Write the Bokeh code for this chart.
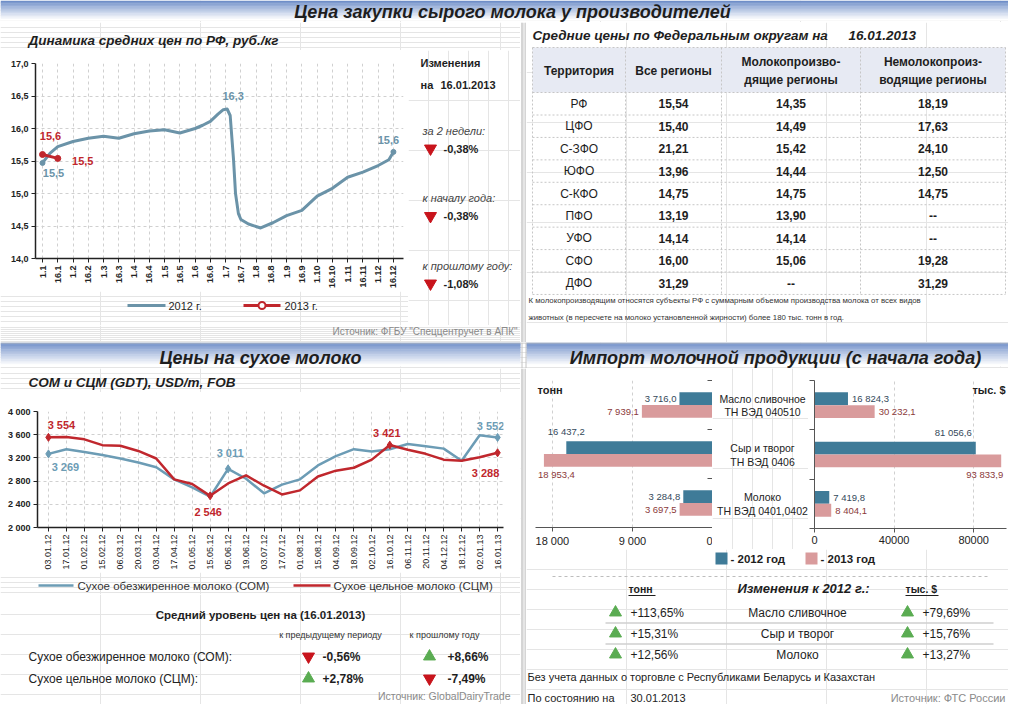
import math
from bokeh.plotting import figure
from bokeh.models import Range1d, FixedTicker
from bokeh.layouts import column, row
from bokeh.embed import file_html
from bokeh.resources import INLINE
from bokeh.core.properties import value

# ---------------------------------------------------------------- data
main_title = "Цена закупки сырого молока у производителей"

rf_title = "Динамика средних цен по РФ, руб./кг"
rf_ticks = ["1.1", "16.1", "1.2", "16.2", "1.3", "16.3", "1.4", "16.4", "1.5", "16.5",
            "1.6", "16.6", "1.7", "16.7", "1.8", "16.8", "1.9", "16.9", "1.10", "16.10",
            "1.11", "16.11", "1.12", "16.12"]
rf_yticks = [14.0, 14.5, 15.0, 15.5, 16.0, 16.5, 17.0]
rf2012_pos = [0, 0.5, 1, 2, 3, 4, 5, 6, 7, 8, 9, 10, 10.5, 11, 11.5, 11.85, 12.1, 12.3,
              12.52, 12.65, 12.84, 13.0, 13.5, 14.3, 15.1, 16, 17, 18, 19, 20, 21, 22, 22.7, 23]
rf2012_val = [15.47, 15.62, 15.72, 15.80, 15.85, 15.88, 15.85, 15.92, 15.96, 15.98, 15.93,
              16.00, 16.05, 16.11, 16.22, 16.29, 16.30, 16.20, 15.52, 15.00, 14.69, 14.60,
              14.53, 14.47, 14.55, 14.66, 14.74, 14.96, 15.08, 15.25, 15.33, 15.43, 15.52, 15.64]
rf2013_pos = [0, 1]
rf2013_val = [15.60, 15.54]
rf_series = ["2012 г.", "2013 г."]
rf_change_date = "16.01.2013"
rf_change_names = ["за 2 недели:", "к началу года:", "к прошлому году:"]
rf_change_vals = [-0.38, -0.38, -1.08]
rf_source = "Источник: ФГБУ \"Спеццентручет в АПК\""

fd_title = "Средние цены по Федеральным округам на"
fd_date = "16.01.2013"
fd_headers = [["Территория"], ["Все регионы"], ["Молокопроизво-", "дящие регионы"],
              ["Немолокопроиз-", "водящие регионы"]]
fd_terr = ["РФ", "ЦФО", "С-ЗФО", "ЮФО", "С-КФО", "ПФО", "УФО", "СФО", "ДФО"]
fd_all = [15.54, 15.40, 21.21, 13.96, 14.75, 13.19, 14.14, 16.00, 31.29]
fd_milk = [14.35, 14.49, 15.42, 14.44, 14.75, 13.90, 14.14, 15.06, None]
fd_nonmilk = [18.19, 17.63, 24.10, 12.50, 14.75, None, None, 19.28, 31.29]
fd_note = ["К молокопроизводящим относятся субъекты РФ с суммарным объемом производства молока от всех видов",
           "животных (в пересчете на молоко установленной жирности) более 180 тыс. тонн в год."]

dry_title = "Цены на сухое молоко"
dry_sub = "СОМ и СЦМ (GDT), USD/m, FOB"
dry_dates = ["03.01.12", "17.01.12", "01.02.12", "15.02.12", "06.03.12", "20.03.12",
             "03.04.12", "17.04.12", "01.05.12", "15.05.12", "05.06.12", "19.06.12",
             "03.07.12", "17.07.12", "01.08.12", "15.08.12", "04.09.12", "18.09.12",
             "02.10.12", "16.10.12", "06.11.12", "20.11.12", "04.12.12", "18.12.12",
             "02.01.13", "16.01.13"]
dry_yticks = [2000, 2400, 2800, 3200, 3600, 4000]
som = [3269, 3350, 3300, 3250, 3190, 3120, 3040, 2830, 2690, 2530, 3011, 2840, 2590,
       2740, 2830, 3070, 3230, 3350, 3310, 3350, 3440, 3400, 3360, 3150, 3590, 3552]
scm = [3554, 3560, 3520, 3420, 3410, 3320, 3190, 2830, 2750, 2546, 2760, 2900, 2720,
       2570, 2640, 2880, 2980, 3030, 3170, 3421, 3340, 3270, 3170, 3150, 3210, 3288]
som_name = "Сухое обезжиренное молоко (СОМ)"
scm_name = "Сухое цельное молоко (СЦМ)"
som_marked = [0, 10, 25]
scm_marked = [0, 9, 19, 25]
dry_avg_title = "Средний уровень цен на (16.01.2013)"
dry_cols = ["к предыдущему периоду", "к прошлому году"]
dry_rows = ["Сухое обезжиренное молоко (СОМ):", "Сухое цельное молоко (СЦМ):"]
dry_prev = [-0.56, 2.78]
dry_year = [8.66, -7.49]
dry_source = "Источник: GlobalDairyTrade"

imp_title = "Импорт молочной продукции (с начала года)"
imp_cats = [["Масло сливочное", "ТН ВЭД 040510"], ["Сыр и творог", "ТН ВЭД 0406"],
            ["Молоко", "ТН ВЭД 0401,0402"]]
tons2012 = [3716.0, 16437.2, 3284.8]
tons2013 = [7939.1, 18953.4, 3697.5]
usd2012 = [16824.3, 81056.6, 7419.8]
usd2013 = [30232.1, 93833.9, 8404.1]
tons_ticks = [0, 9000, 18000]
usd_ticks = [0, 40000, 80000]
years = ["- 2012 год", "- 2013 год"]
chg_title = "Изменения к 2012 г.:"
chg_names = ["Масло сливочное", "Сыр и творог", "Молоко"]
chg_tons = [113.65, 15.31, 12.56]
chg_usd = [79.69, 15.76, 13.27]
imp_note = "Без учета данных о торговле с Республиками Беларусь и Казахстан"
imp_date_lbl = "По состоянию на"
imp_date = "30.01.2013"
imp_source = "Источник: ФТС России"

# ---------------------------------------------------------------- style
SANS = "Liberation Sans"
DARK = "#1e1e1e"
C12 = "#6b93a8"
RED = "#c0272d"
SOMC = "#6c9cb5"
BAR12 = "#3f7b98"
BAR13 = "#d99b9c"
LBL12 = "#34495a"
LBL13 = "#8b3a3a"
UP = "#5aac52"
DOWN = "#c8141c"
GRIDC = "#d0d0d0"
SRC = "#8a8a8a"
BORDER = "#c4c4c4"


def f1(v):
    return f"{v:.1f}".replace(".", ",")


def f2(v):
    return "--" if v is None else f"{v:.2f}".replace(".", ",")


def thou(v, d=0):
    return f"{v:,.{d}f}".replace(",", " ").replace(".", ",")


def pct(v):
    return ("+" if v > 0 else "") + f"{v:.2f}".replace(".", ",") + "%"


def canvas(w, h):
    p = figure(width=w, height=h, x_range=Range1d(0, w), y_range=Range1d(h, 0),
               x_axis_location=None, y_axis_location=None, toolbar_location=None,
               output_backend="svg", min_border=0)
    p.outline_line_color = None
    p.background_fill_color = "white"
    p.border_fill_color = "white"
    return p


def box(f):
    # wrap a single plot so that the layout does not align its frame with siblings
    return row(f)


def put(p, x, y, s, size=11, color=DARK, style="normal", align="left"):
    p.text(x=[x], y=[y], text=[s], text_font=value(SANS), text_font_size=f"{size}px",
           text_color=color, text_font_style=style, text_align=align, text_baseline="middle")


def arrow(p, x, y, v, size=12):
    c = UP if v > 0 else DOWN
    p.scatter([x], [y], marker="triangle" if v > 0 else "inverted_triangle",
              size=size, fill_color=c, line_color=c)


def gradient(p, x0, x1, h, steps=14, frac=0.9):
    c0 = (0x6f, 0x8e, 0xc8)
    tops, bots, cols = [], [], []
    hh = h * frac
    for k in range(steps):
        t = (k / (steps - 1)) ** 0.9
        c = tuple(round(a + (255 - a) * t) for a in c0)
        tops.append(k * hh / steps)
        bots.append((k + 1) * hh / steps + 0.5)
        cols.append("#%02x%02x%02x" % c)
    p.quad(left=x0, right=x1, top=tops, bottom=bots, fill_color=cols, line_color=None)


def style_axes(p, size="9px", bold=True, color="#222", width=1.5):
    for ax in p.axis:
        ax.axis_line_color = color
        ax.axis_line_width = width
        ax.major_tick_line_color = color
        ax.major_tick_out = 4
        ax.major_tick_in = 0
        ax.minor_tick_line_color = None
        ax.major_label_text_font = SANS
        ax.major_label_text_font_size = size
        ax.major_label_text_font_style = "bold" if bold else "normal"
        ax.major_label_text_color = "#222"
        ax.major_label_standoff = 3


def style_grid(p):
    for g in p.grid:
        g.grid_line_color = GRIDC
        g.grid_line_dash = "3 3"
        g.grid_line_width = 1


# ---------------------------------------------------------------- top band
top_band = canvas(1008, 22)
gradient(top_band, 0, 1008, 22)
put(top_band, 512, 11, main_title, size=18, style="bold italic", align="center")

# ---------------------------------------------------------------- top-left
tl_sub = canvas(520, 28)
put(tl_sub, 28, 18, rf_title, size=13.5, style="bold italic")

p1 = figure(width=408, height=241, x_range=Range1d(-0.46, 23.66), y_range=Range1d(14, 17),
            toolbar_location=None, output_backend="svg",
            min_border_left=35, min_border_right=5, min_border_top=13, min_border_bottom=33)
p1.outline_line_color = None
p1.xaxis.ticker = FixedTicker(ticks=list(range(len(rf_ticks))))
p1.xaxis.major_label_overrides = {i: t for i, t in enumerate(rf_ticks)}
p1.xaxis.major_label_orientation = math.pi / 2
p1.yaxis.ticker = FixedTicker(ticks=rf_yticks)
p1.yaxis.major_label_overrides = {v: f1(v) for v in rf_yticks}
style_axes(p1)
style_grid(p1)
p1.line(rf2012_pos, rf2012_val, line_color=C12, line_width=3, line_join="round")
p1.scatter([rf2012_pos[0], rf2012_pos[-1]], [rf2012_val[0], rf2012_val[-1]], size=5,
           fill_color=C12, line_color=C12)
p1.line(rf2013_pos, rf2013_val, line_color=RED, line_width=3)
p1.scatter(rf2013_pos, rf2013_val, size=6, fill_color=RED, line_color=RED)
imax = rf2012_val.index(max(rf2012_val))
for x, y, c, dx, dy in [(rf2012_pos[0], rf2012_val[0], C12, 11, 10),
                        (rf2012_pos[imax], rf2012_val[imax], C12, 6, -13),
                        (rf2012_pos[-1], rf2012_val[-1], C12, -5, -12),
                        (rf2013_pos[0], rf2013_val[0], RED, 8, -19),
                        (rf2013_pos[-1], rf2013_val[-1], RED, 25, 3)]:
    p1.text(x=[x], y=[y], text=[f1(y)], x_offset=dx, y_offset=dy, text_font=value(SANS),
            text_font_size="11px", text_font_style="bold", text_color=c,
            text_align="center", text_baseline="middle")

tl_leg = canvas(408, 34)
tl_leg.line([127, 165], [14, 14], line_color=C12, line_width=3)
put(tl_leg, 168, 14, rf_series[0], size=11)
tl_leg.line([243, 280], [14, 14], line_color=RED, line_width=3)
tl_leg.scatter([261.5], [14], size=7, fill_color="white", line_color=RED, line_width=2)
put(tl_leg, 284, 14, rf_series[1], size=11)

tl_side = canvas(112, 275)
put(tl_side, 12, 12, "Изменения", size=11, style="bold")
put(tl_side, 12, 34, "на", size=11, style="bold")
put(tl_side, 32, 34, rf_change_date, size=11, style="bold")
for k, (nm, v) in enumerate(zip(rf_change_names, rf_change_vals)):
    y0 = 80 + k * 67.5
    put(tl_side, 14, y0, nm, size=11, style="italic", color="#444")
    arrow(tl_side, 22, y0 + 18, v)
    put(tl_side, 35, y0 + 18, pct(v), size=11, style="bold")

tl_src = canvas(520, 17)
put(tl_src, 517, 6, rf_source, size=10, color=SRC, align="right")

tl_col = column(box(tl_sub), row(column(box(p1), box(tl_leg)), box(tl_side)), box(tl_src))

# ---------------------------------------------------------------- top-right table
tr = canvas(482, 320)
put(tr, 6, 13, fd_title, size=13.5, style="bold italic")
put(tr, 322, 13, fd_date, size=13.5, style="bold italic")
bounds = [6, 99, 195, 334, 479]
centers = [(bounds[i] + bounds[i + 1]) / 2 for i in range(4)]
row_y = [81.3 + 22.43 * i for i in range(len(fd_terr))]
tr.quad(left=bounds[0], right=bounds[-1], top=25, bottom=70, fill_color="#e7eaf3", line_color=None)
hl = [25, 70] + [y + 11.2 for y in row_y]
tr.segment(x0=[bounds[0]] * len(hl), x1=[bounds[-1]] * len(hl), y0=hl, y1=hl,
           line_color="#c6c6c6", line_dash="2 2", line_width=1)
tr.segment(x0=bounds, x1=bounds, y0=[25] * 5, y1=[hl[-1]] * 5,
           line_color="#c6c6c6", line_dash="2 2", line_width=1)
for cx, hdr in zip(centers, fd_headers):
    if len(hdr) == 1:
        put(tr, cx, 48.5, hdr[0], size=12, style="bold", align="center")
    else:
        put(tr, cx, 39.5, hdr[0], size=12, style="bold", align="center")
        put(tr, cx, 57.5, hdr[1], size=12, style="bold", align="center")
tr.text(x=[centers[0]] * len(fd_terr), y=row_y, text=fd_terr, text_font=value(SANS),
        text_font_size="12px", text_color=DARK, text_align="center", text_baseline="middle")
for cx, col in zip(centers[1:], [fd_all, fd_milk, fd_nonmilk]):
    tr.text(x=[cx] * len(col), y=row_y, text=[f2(v) for v in col], text_font=value(SANS),
            text_font_size="12px", text_font_style="bold", text_color=DARK,
            text_align="center", text_baseline="middle")
put(tr, 2, 278, fd_note[0], size=7.8, color="#333")
put(tr, 2, 295, fd_note[1], size=7.8, color="#333")

sep1 = canvas(6, 320)
sep1.segment(x0=[1.5, 5.5], x1=[1.5, 5.5], y0=[0, 0], y1=[320, 320], line_color=BORDER, line_width=1)

# ---------------------------------------------------------------- bottom band
bot_band = canvas(1008, 26)
gradient(bot_band, 0, 520, 26)
gradient(bot_band, 526, 1008, 26)
bot_band.segment(x0=[0, 521.5, 525.5], x1=[1008, 521.5, 525.5], y0=[0.5, 0, 0], y1=[0.5, 26, 26],
                 line_color=BORDER, line_width=1)
put(bot_band, 260, 15, dry_title, size=18, style="bold italic", align="center")
put(bot_band, 775, 15, imp_title, size=18, style="bold italic", align="center")

# ---------------------------------------------------------------- bottom-left
bl_sub = canvas(520, 24)
put(bl_sub, 28, 14, dry_sub, size=13.5, style="bold italic")

p2 = figure(width=520, height=180, x_range=Range1d(-0.61, 25.33), y_range=Range1d(2000, 4000),
            toolbar_location=None, output_backend="svg",
            min_border_left=37, min_border_right=17, min_border_top=19, min_border_bottom=45)
p2.outline_line_color = None
p2.xaxis.ticker = FixedTicker(ticks=list(range(len(dry_dates))))
p2.xaxis.major_label_overrides = {i: t for i, t in enumerate(dry_dates)}
p2.xaxis.major_label_orientation = math.pi / 2
p2.yaxis.ticker = FixedTicker(ticks=dry_yticks)
p2.yaxis.major_label_overrides = {v: thou(v) for v in dry_yticks}
style_axes(p2, size="9px", bold=True)
p2.xaxis.major_label_text_font_style = "normal"
style_grid(p2)
xs = list(range(len(dry_dates)))
p2.line(xs, som, line_color=SOMC, line_width=2.5, line_join="round")
p2.line(xs, scm, line_color=RED, line_width=2.5, line_join="round")
p2.scatter([xs[i] for i in som_marked], [som[i] for i in som_marked], marker="diamond",
           size=8, fill_color=SOMC, line_color=SOMC)
p2.scatter([xs[i] for i in scm_marked], [scm[i] for i in scm_marked], marker="diamond",
           size=8, fill_color=RED, line_color=RED)
for ser, idx, c, offs in [(som, som_marked, SOMC, [(17, 13), (2, -16), (-7, -11)]),
                          (scm, scm_marked, RED, [(13, -12), (-2, 16), (-3, -12), (-12, 20)])]:
    for i, (dx, dy) in zip(idx, offs):
        p2.text(x=[xs[i]], y=[ser[i]], text=[thou(ser[i])], x_offset=dx, y_offset=dy,
                text_font=value(SANS), text_font_size="11px", text_font_style="bold",
                text_color=c, text_align="center", text_baseline="middle")

bl_leg = canvas(520, 22)
bl_leg.line([38, 73], [13, 13], line_color=SOMC, line_width=2.5)
put(bl_leg, 77, 13, som_name, size=11.5, color="#333")
bl_leg.line([293, 330], [13, 13], line_color=RED, line_width=2.5)
put(bl_leg, 333, 13, scm_name, size=11.5, color="#333")

bl_txt = canvas(520, 110)
put(bl_txt, 260, 20, dry_avg_title, size=11.5, style="bold", align="center")
put(bl_txt, 330, 40, dry_cols[0], size=9, align="center", color="#333")
put(bl_txt, 444, 40, dry_cols[1], size=9, align="center", color="#333")
for k, (nm, a, b) in enumerate(zip(dry_rows, dry_prev, dry_year)):
    y0 = 62 + k * 22
    put(bl_txt, 28, y0, nm, size=12, color="#222")
    arrow(bl_txt, 308, y0, a)
    put(bl_txt, 322, y0, pct(a), size=12, style="bold")
    arrow(bl_txt, 429, y0, b)
    put(bl_txt, 447, y0, pct(b), size=12, style="bold")
put(bl_txt, 510, 101, dry_source, size=10.5, color=SRC, align="right")

bl_col = column(box(bl_sub), box(p2), box(bl_leg), box(bl_txt))

# ---------------------------------------------------------------- bottom-right
n = len(imp_cats)
yc = [n - i - 0.5 for i in range(n)]
bh = 0.26
y12 = [c + bh / 2 for c in yc]
y13 = [c - bh / 2 for c in yc]
BH = 181


def bar_fig(w, xr, ticks, left_border, right_border, yloc, spaced):
    p = figure(width=w, height=BH, x_range=xr, y_range=Range1d(0, n), y_axis_location=yloc,
               toolbar_location=None, output_backend="svg",
               min_border_left=left_border, min_border_right=right_border,
               min_border_top=12, min_border_bottom=21)
    p.outline_line_color = None
    style_axes(p, size="11px", bold=False, color="#555", width=1)
    p.xaxis.ticker = FixedTicker(ticks=ticks)
    p.xaxis.major_label_overrides = {t: (thou(t) if spaced else str(t)) for t in ticks}
    p.yaxis.ticker = FixedTicker(ticks=list(range(n + 1)))
    p.yaxis.major_label_overrides = {t: "" for t in range(n + 1)}
    p.yaxis.major_label_text_font_size = "0px"
    p.yaxis.major_label_standoff = 0
    p.ygrid.visible = False
    p.xgrid.grid_line_color = GRIDC
    p.xgrid.grid_line_dash = "3 3"
    return p


pl = bar_fig(186, Range1d(19900, 0), tons_ticks, 9, 0, "right", True)
pl.yaxis.major_tick_out = 0
pl.yaxis.major_tick_in = 5
pr = bar_fig(200, Range1d(0, 96500), usd_ticks, 6, 2, "left", False)
pr.yaxis.major_tick_out = 5

for p, a12, a13, sgn in [(pl, tons2012, tons2013, -1), (pr, usd2012, usd2013, 1)]:
    p.hbar(y=y12, left=0, right=a12, height=bh, fill_color=BAR12, line_color=None)
    p.hbar(y=y13, left=0, right=a13, height=bh, fill_color=BAR13, line_color=None)
    big = 0.7 * max(a13)
    for vals, ys, col, first in [(a12, y12, LBL12, True), (a13, y13, LBL13, False)]:
        for v, y in zip(vals, ys):
            if v < big:
                al = "right" if sgn < 0 else "left"
                dx, dy = (-3 if sgn < 0 else 4), 0
            elif first:
                al = "center" if sgn < 0 else "right"
                dx, dy = (0 if sgn < 0 else -4), -16
            else:
                al = "left" if sgn < 0 else "right"
                dx, dy = (-6 if sgn < 0 else 2), 14
            p.text(x=[v], y=[y], text=[thou(v, 1)], x_offset=dx, y_offset=dy,
                   text_font=value(SANS), text_font_size="9.5px", text_color=col,
                   text_align=al, text_baseline="middle")

pl.text(x=[19676], y=[n - 0.2], text=["тонн"], text_font=value(SANS), text_font_size="11px",
        text_font_style="bold", text_color=DARK, text_align="left", text_baseline="middle")
pr.text(x=[96000], y=[n - 0.2], text=["тыс. $"], text_font=value(SANS), text_font_size="11px",
        text_font_style="bold", text_color=DARK, text_align="right", text_baseline="middle")

mid = canvas(96, BH)
for k, (l1, l2) in enumerate(imp_cats):
    cy = 12 + (k + 0.5) * ((BH - 33) / n)
    put(mid, 50, cy - 6.5, l1, size=10.5, align="center", color="#222")
    put(mid, 50, cy + 7, l2, size=10.5, align="center", color="#222")

br_txt = canvas(482, 155)
br_txt.quad(left=[189, 279], right=[201, 291], top=[3, 3], bottom=[15, 15],
            fill_color=[BAR12, BAR13], line_color=None)
put(br_txt, 204, 9, years[0], size=11.5, style="bold")
put(br_txt, 294, 9, years[1], size=11.5, style="bold")
br_txt.segment(x0=[26], x1=[464], y0=[27], y1=[27], line_color="#bdbdbd", line_dash="3 3")
put(br_txt, 102, 39, "тонн", size=10.5, style="bold")
put(br_txt, 379, 39, "тыс. $", size=10.5, style="bold")
br_txt.segment(x0=[102, 379], x1=[129, 412], y0=[46, 46], y1=[46, 46], line_color=DARK, line_width=1)
put(br_txt, 277, 39, chg_title, size=13, style="bold italic", align="center")
for k, (nm, a, b) in enumerate(zip(chg_names, chg_tons, chg_usd)):
    y0 = 63 + k * 21
    arrow(br_txt, 89, y0, a)
    put(br_txt, 104, y0, pct(a), size=12)
    put(br_txt, 271, y0, nm, size=12, align="center")
    arrow(br_txt, 381, y0, b)
    put(br_txt, 396, y0, pct(b), size=12)
br_txt.segment(x0=[79, 79], x1=[467, 467], y0=[73.5, 94.5], y1=[73.5, 94.5],
               line_color="#cfcfcf", line_width=1.5)
put(br_txt, 1, 127, imp_note, size=11, color="#222")
put(br_txt, 1, 148, imp_date_lbl, size=11, color="#222")
put(br_txt, 104, 148, imp_date, size=11, color="#222")
put(br_txt, 479, 148, imp_source, size=11, color=SRC, align="right")

br_col = column(row(box(pl), box(mid), box(pr)), box(br_txt))

sep2 = canvas(6, 336)
sep2.segment(x0=[1.5, 5.5], x1=[1.5, 5.5], y0=[0, 0], y1=[336, 336], line_color=BORDER, line_width=1)

page = column(box(top_band), row(tl_col, box(sep1), box(tr)), box(bot_band),
              row(bl_col, box(sep2), br_col))

open("out.html", "w").write(file_html(page, INLINE, title="Цена закупки сырого молока"))
